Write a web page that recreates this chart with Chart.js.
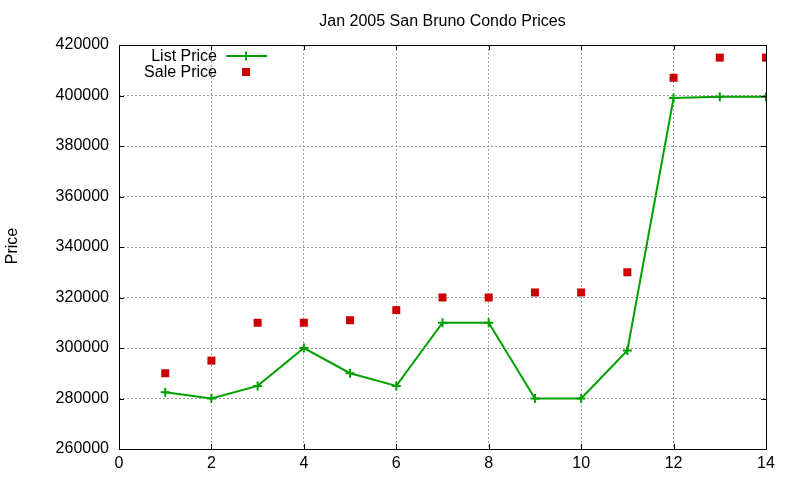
<!DOCTYPE html>
<html>
<head>
<meta charset="utf-8">
<script src="https://cdn.jsdelivr.net/npm/chart.js@4/dist/chart.umd.min.js"></script>
<style>
  html, body { margin: 0; padding: 0; background: #ffffff; }
  #wrap { width: 800px; height: 480px; }
</style>
</head>
<body>
<div id="wrap"><canvas id="c" width="800" height="480"></canvas></div>
<script>
const chartTitle = 'Jan 2005 San Bruno Condo Prices';
const yAxisTitle = 'Price';
const xValues = [1, 2, 3, 4, 5, 6, 7, 8, 9, 10, 11, 12, 13, 14];
const listPrice = [282500, 280000, 285000, 300000, 290000, 285000, 310000, 310000, 280000, 280000, 299000, 399000, 399500, 399500];
const salePrice = [290000, 295000, 310000, 310000, 311000, 315000, 320000, 320000, 322000, 322000, 330000, 407000, 415000, 415000];
const seriesNames = ['List Price', 'Sale Price'];
const xTickMin = 0, xTickMax = 14, xTickStep = 2;
const yTickMin = 260000, yTickMax = 420000, yTickStep = 20000;

const FONT = 'Liberation Sans, Arial, Helvetica, sans-serif';
const GREEN = '#00a000';
const RED = '#cc0000';

const overlay = {
  id: 'overlay',
  afterDraw(chart) {
    const ctx = chart.ctx;
    const a = chart.chartArea;
    const xs = chart.scales.x, ys = chart.scales.y;
    ctx.save();
    // ticks (inward, mirrored)
    ctx.strokeStyle = '#000';
    ctx.lineWidth = 1;
    ctx.beginPath();
    xs.ticks.forEach(t => {
      const px = Math.round(xs.getPixelForValue(t.value)) + 0.5;
      ctx.moveTo(px, a.bottom); ctx.lineTo(px, a.bottom - 5);
      ctx.moveTo(px, a.top); ctx.lineTo(px, a.top + 5);
    });
    ys.ticks.forEach(t => {
      const py = Math.round(ys.getPixelForValue(t.value)) + 0.5;
      ctx.moveTo(a.left, py); ctx.lineTo(a.left + 5, py);
      ctx.moveTo(a.right, py); ctx.lineTo(a.right - 5, py);
    });
    ctx.stroke();
    // box
    ctx.strokeRect(Math.round(a.left) + 0.5, Math.round(a.top) + 0.5,
      Math.round(a.right - a.left), Math.round(a.bottom - a.top));
    // title
    ctx.fillStyle = '#000';
    ctx.font = '16px ' + FONT;
    ctx.textAlign = 'center';
    ctx.textBaseline = 'middle';
    ctx.fillText(chartTitle, (a.left + a.right) / 2, 22);
    // y axis title
    ctx.save();
    ctx.translate(13, 246);
    ctx.rotate(-Math.PI / 2);
    ctx.fillText(yAxisTitle, 0, 0);
    ctx.restore();
    // legend
    ctx.textAlign = 'right';
    ctx.fillText(seriesNames[0], 217, 57);
    ctx.fillText(seriesNames[1], 217, 72.5);
    ctx.strokeStyle = GREEN;
    ctx.lineWidth = 2;
    ctx.beginPath();
    ctx.moveTo(226, 56); ctx.lineTo(267, 56);
    ctx.moveTo(246, 51.5); ctx.lineTo(246, 60.5);
    ctx.stroke();
    ctx.fillStyle = RED;
    ctx.fillRect(242, 68, 8, 8);
    ctx.restore();
  }
};

new Chart(document.getElementById('c'), {
  type: 'line',
  data: {
    datasets: [
      {
        label: seriesNames[0],
        data: xValues.map((x, i) => ({ x: x, y: listPrice[i] })),
        borderColor: GREEN,
        backgroundColor: GREEN,
        borderWidth: 2,
        tension: 0,
        pointStyle: 'cross',
        pointRadius: 4.5,
        pointBorderWidth: 2,
        pointBorderColor: GREEN,
        fill: false
      },
      {
        label: seriesNames[1],
        data: xValues.map((x, i) => ({ x: x, y: salePrice[i] })),
        showLine: false,
        pointStyle: 'rect',
        pointRadius: 5.66,
        pointBorderWidth: 0,
        pointBackgroundColor: RED,
        backgroundColor: RED,
        borderColor: RED
      }
    ]
  },
  options: {
    responsive: false,
    animation: false,
    devicePixelRatio: 1,
    layout: { padding: { left: 0, right: 34, top: 45, bottom: 0 } },
    plugins: {
      legend: { display: false },
      title: { display: false },
      tooltip: { enabled: false }
    },
    scales: {
      x: {
        type: 'linear',
        min: xTickMin, max: xTickMax,
        afterFit(s) { s.height = 31; },
        ticks: { stepSize: xTickStep, color: '#000', font: { family: FONT, size: 16 }, padding: 5, maxRotation: 0 },
        grid: { color: '#a0a0a0', lineWidth: 1, drawTicks: false },
        border: { display: false, dash: [2, 2] }
      },
      y: {
        type: 'linear',
        min: yTickMin, max: yTickMax,
        afterFit(s) { s.width = 119; },
        ticks: { stepSize: yTickStep, color: '#000', font: { family: FONT, size: 16 }, padding: 10,
          callback: v => String(v) },
        grid: { color: '#a0a0a0', lineWidth: 1, drawTicks: false },
        border: { display: false, dash: [2, 2] }
      }
    }
  },
  plugins: [overlay]
});
</script>
</body>
</html>
